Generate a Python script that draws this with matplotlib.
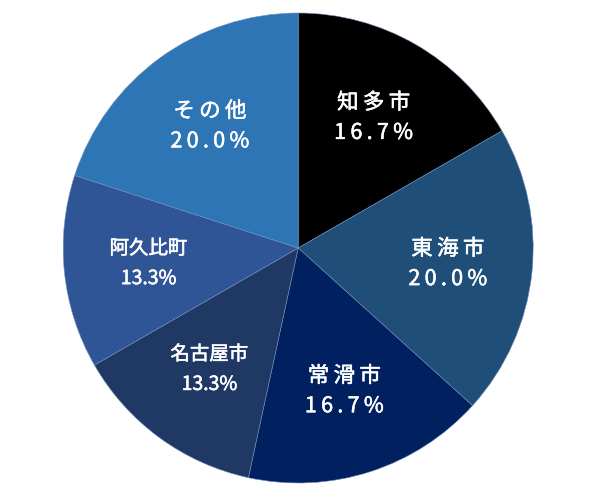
import numpy as np
import matplotlib.pyplot as plt
import matplotlib.patheffects as pe

plt.rcParams['font.family'] = ['Noto Sans CJK JP', 'DejaVu Sans']

names = ["知多市", "東海市", "常滑市", "名古屋市", "阿久比町", "その他"]
shares = [16.7, 20.0, 16.7, 13.3, 13.3, 20.0]
colors = ["#000000", "#1f4e79", "#002060", "#203864", "#2f5597", "#2e75b6"]
big = [True, True, True, False, False, True]

fig = plt.figure(figsize=(6, 5), dpi=100)
ax = fig.add_axes([0.105, 0.034, 0.784, 0.94])

wedges, _ = ax.pie(shares, colors=colors, startangle=90, counterclock=False,
                   wedgeprops=dict(linewidth=0.4, edgecolor="#6f8fb8"))
ax.set_xlim(-1, 1)
ax.set_ylim(-1, 1)
ax.set_aspect("equal")

# slightly heavier than regular weight
thick = [pe.withStroke(linewidth=0.4, foreground="white")]

for w, name, s, b in zip(wedges, names, shares, big):
    mid = np.deg2rad((w.theta1 + w.theta2) / 2)
    r = 0.64
    x, y = r * np.cos(mid), r * np.sin(mid)
    pct = f"{s:.1f}%"
    if b:
        name_t = "\u2009".join(name)
        pct_t = "\u2009".join(pct)
        fs = 15.5
    else:
        name_t, pct_t = name, pct
        fs = 14
    ax.text(x, y + 0.064, name_t, ha="center", va="center", color="white",
            fontsize=fs, path_effects=thick)
    ax.text(x, y - 0.064, pct_t, ha="center", va="center", color="white",
            fontsize=fs, path_effects=thick)

fig.savefig("out.png", dpi=100)
